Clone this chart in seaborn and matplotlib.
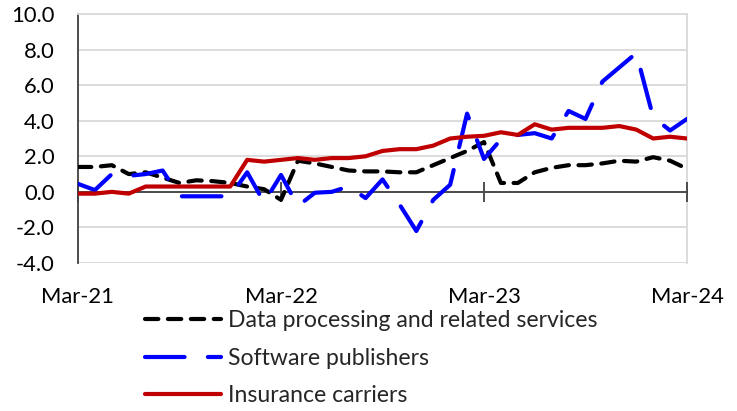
import numpy as np
import pandas as pd
import matplotlib
matplotlib.use("Agg")
import matplotlib.pyplot as plt
import seaborn as sns

# ---- data (monthly, Mar-21 .. Mar-24) ----
month_index = list(range(37))
tick_positions = [0, 12, 24, 36]
tick_labels = ["Mar-21", "Mar-22", "Mar-23", "Mar-24"]

data_processing = [1.4, 1.4, 1.5, 1.0, 1.1, 0.8, 0.5, 0.65, 0.6, 0.5, 0.3, 0.15,
                   -0.45, 1.75, 1.6, 1.4, 1.2, 1.15, 1.15, 1.1, 1.1, 1.5, 1.9, 2.3,
                   2.8, 0.5, 0.5, 1.1, 1.35, 1.5, 1.5, 1.6, 1.75, 1.7, 1.95, 1.75, 1.3]
software_publishers = [0.45, 0.1, 1.0, 0.9, 1.0, 1.2, -0.25, -0.25, -0.25, -0.25, 1.1, -0.6,
                       0.95, -0.8, -0.05, 0.0, 0.3, -0.35, 0.7, -0.7, -2.2, -0.45, 0.4, 4.4,
                       1.85, 2.95, 3.2, 3.3, 3.0, 4.55, 4.1, 6.2, 7.0, 7.8, 4.2, 3.45, 4.1]
insurance_carriers = [-0.1, -0.1, 0.0, -0.1, 0.3, 0.3, 0.3, 0.3, 0.3, 0.3, 1.8, 1.7,
                      1.8, 1.9, 1.8, 1.9, 1.9, 2.0, 2.3, 2.4, 2.4, 2.6, 3.0, 3.1,
                      3.15, 3.35, 3.2, 3.8, 3.5, 3.6, 3.6, 3.6, 3.7, 3.5, 3.0, 3.1, 3.0]

series_names = ["Data processing and related services", "Software publishers", "Insurance carriers"]
y_ticks = [-4, -2, 0, 2, 4, 6, 8, 10]

wide = pd.DataFrame({
    "month": month_index,
    series_names[0]: data_processing,
    series_names[1]: software_publishers,
    series_names[2]: insurance_carriers,
})
long = wide.melt(id_vars="month", var_name="series", value_name="value")

palette = {series_names[0]: "#000000", series_names[1]: "#0000FF", series_names[2]: "#C00000"}
dashes = {series_names[0]: (3.2, 2.3), series_names[1]: (9.5, 5.6), series_names[2]: ""}

sns.set_theme(style="white")
plt.rcParams["font.family"] = ["Lato", "DejaVu Sans"]
FS = 15.8
LFS = 16.6

fig = plt.figure(figsize=(7.37, 4.11), dpi=100)
ax = fig.add_axes([78 / 737, 1 - 263 / 411, (687 - 78) / 737, (263 - 14) / 411])

sns.lineplot(data=long, x="month", y="value", hue="series", style="series",
             hue_order=series_names, style_order=series_names,
             palette=palette, dashes=dashes, linewidth=3.0, ax=ax, legend=True)

for ln in ax.lines:
    ln.set_dash_capstyle("round")
    ln.set_solid_capstyle("round")
    ln.set_solid_joinstyle("round")
    ln.set_dash_joinstyle("round")
    ln.set_zorder(3)

ax.set_xlim(0, 36)
ax.set_ylim(-4, 10)
ax.set_yticks(y_ticks, labels=[f"{v:.1f}" for v in y_ticks])
ax.tick_params(axis="y", length=0, pad=17, labelsize=FS, labelcolor="black")
ax.yaxis.grid(True, color="#d9d9d9", linewidth=1.3)
ax.xaxis.grid(False)
ax.set_axisbelow(True)
ax.set_xlabel("")
ax.set_ylabel("")

ax.spines["bottom"].set_position(("data", 0))
ax.spines["bottom"].set_color("#404040")
ax.spines["bottom"].set_linewidth(1.3)
ax.spines["left"].set_color("#404040")
ax.spines["left"].set_linewidth(1.3)
ax.spines["top"].set_color("#d9d9d9")
ax.spines["right"].set_color("#d9d9d9")
ax.spines["top"].set_linewidth(1.3)
ax.spines["right"].set_linewidth(1.3)
ax.spines["right"].set_zorder(0.5)

ax.set_xticks(tick_positions)
ax.tick_params(axis="x", direction="inout", length=14, width=1.3, color="#404040",
               labelbottom=False, bottom=True)
for t in ax.xaxis.get_major_ticks():
    t.tick1line.set_clip_on(False)

sec = ax.secondary_xaxis("bottom")
sec.set_xticks(tick_positions, labels=tick_labels)
sec.tick_params(length=0, pad=17, labelsize=FS, labelcolor="black")
sec.spines["bottom"].set_visible(False)

ax.get_legend().remove()
fig.legend(ax.lines[:3], series_names, loc="upper left",
           bbox_to_anchor=(145 / 737, 1 - 310 / 411), frameon=False,
           fontsize=LFS, handlelength=3.3, handletextpad=0.3, labelspacing=0.72,
           borderpad=0, borderaxespad=0)

fig.savefig("out.png", dpi=100)
